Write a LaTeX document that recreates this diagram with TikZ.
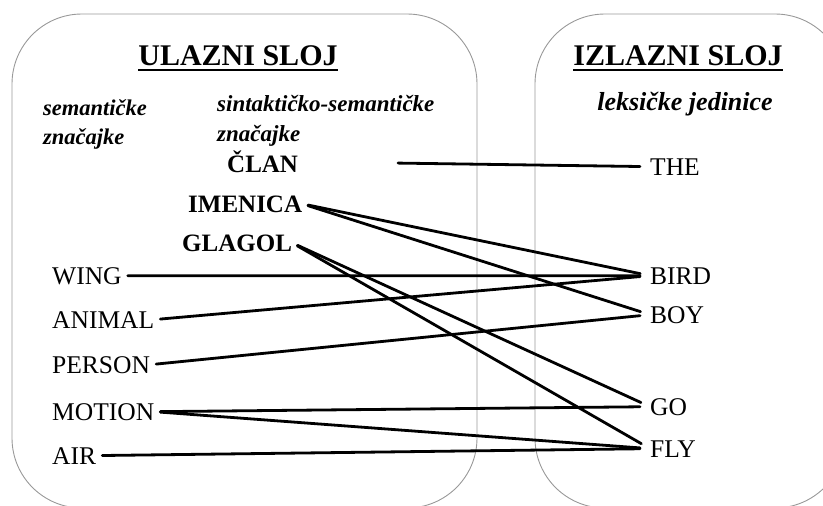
\documentclass[tikz,border=0pt]{standalone}
\usepackage{fontspec}
\setmainfont{Liberation Serif}

\newcommand*\cornerradius{70pt}
\tikzset{
    layer/.style={
        draw=gray!80,
        line width=0.9pt,
        rounded corners=\cornerradius
    },
    layertitle/.style={
        font=\bfseries\fontsize{30}{34}\selectfont,
        inner sep=0pt,
        anchor=base
    },
    heading/.style={
        font=\bfseries\itshape\fontsize{22.5}{25}\selectfont,
        inner sep=0pt,
        align=left,
        anchor=north west
    },
    feature/.style={
        font=\bfseries\fontsize{25}{28}\selectfont,
        inner sep=0pt,
        anchor=base west
    },
    word/.style={
        font=\fontsize{25.5}{28}\selectfont,
        inner sep=0pt,
        anchor=base west
    },
    link/.style={
        line width=2.8pt,
        line cap=round,
        shorten <=6pt,
        shorten >=10pt
    }
}

\begin{document}
\begin{tikzpicture}[x=1pt,y=-1pt]

    \clip (0,0) rectangle (823,506);

    % The two layers.
    \draw[layer] (12,14) rectangle (477,508);
    \draw[layer] (535,14) rectangle (845,508);

    % Layer titles, underlined.
    \node[layertitle] (input) at (238,65) {ULAZNI SLOJ};
    \node[layertitle] (output) at (678,65) {IZLAZNI SLOJ};
    \draw[line width=2.2pt] ([yshift=-5pt]input.base west) -- ([yshift=-5pt]input.base east);
    \draw[line width=2.2pt] ([yshift=-5pt]output.base west) -- ([yshift=-5pt]output.base east);

    % Column headings.
    \node[heading] (semantic) at (43,99) {semantičke\\[4pt]značajke};
    \node[heading,font=\bfseries\itshape\fontsize{23}{25}\selectfont] (syntactic) at (217,95) {sintaktičko-semantičke\\[5pt]značajke};
    \node[heading,font=\bfseries\itshape\fontsize{26}{28}\selectfont,anchor=base] (lexical) at (685,110) {leksičke jedinice};

    % Syntactic-semantic features.
    \node[feature] (clan) at (227,172) {ČLAN};
    \node[feature] (imenica) at (188,212) {IMENICA};
    \node[feature] (glagol) at (182,251) {GLAGOL};

    % Semantic features.
    \foreach \name/\word/\ypos in {wing/WING/284,animal/ANIMAL/328,person/PERSON/373,motion/MOTION/420,air/AIR/464}
        \node[word] (\name) at (52,\ypos) {\word};

    % Lexical units.
    \foreach \name/\word/\ypos in {the/THE/175,bird/BIRD/284,boy/BOY/323,go/GO/415,fly/FLY/457}
        \node[word] (\name) at (650,\ypos) {\word};

    % Connections between the layers.
    \coordinate (clanend) at (392,163);
    \draw[link] (clanend) -- (the.west);
    \foreach \from/\to in {imenica/bird,imenica/boy,glagol/go,glagol/fly,wing/bird,animal/bird,person/boy,motion/go,motion/fly,air/fly}
        \draw[link] (\from.east) -- (\to.west);

\end{tikzpicture}
\end{document}
